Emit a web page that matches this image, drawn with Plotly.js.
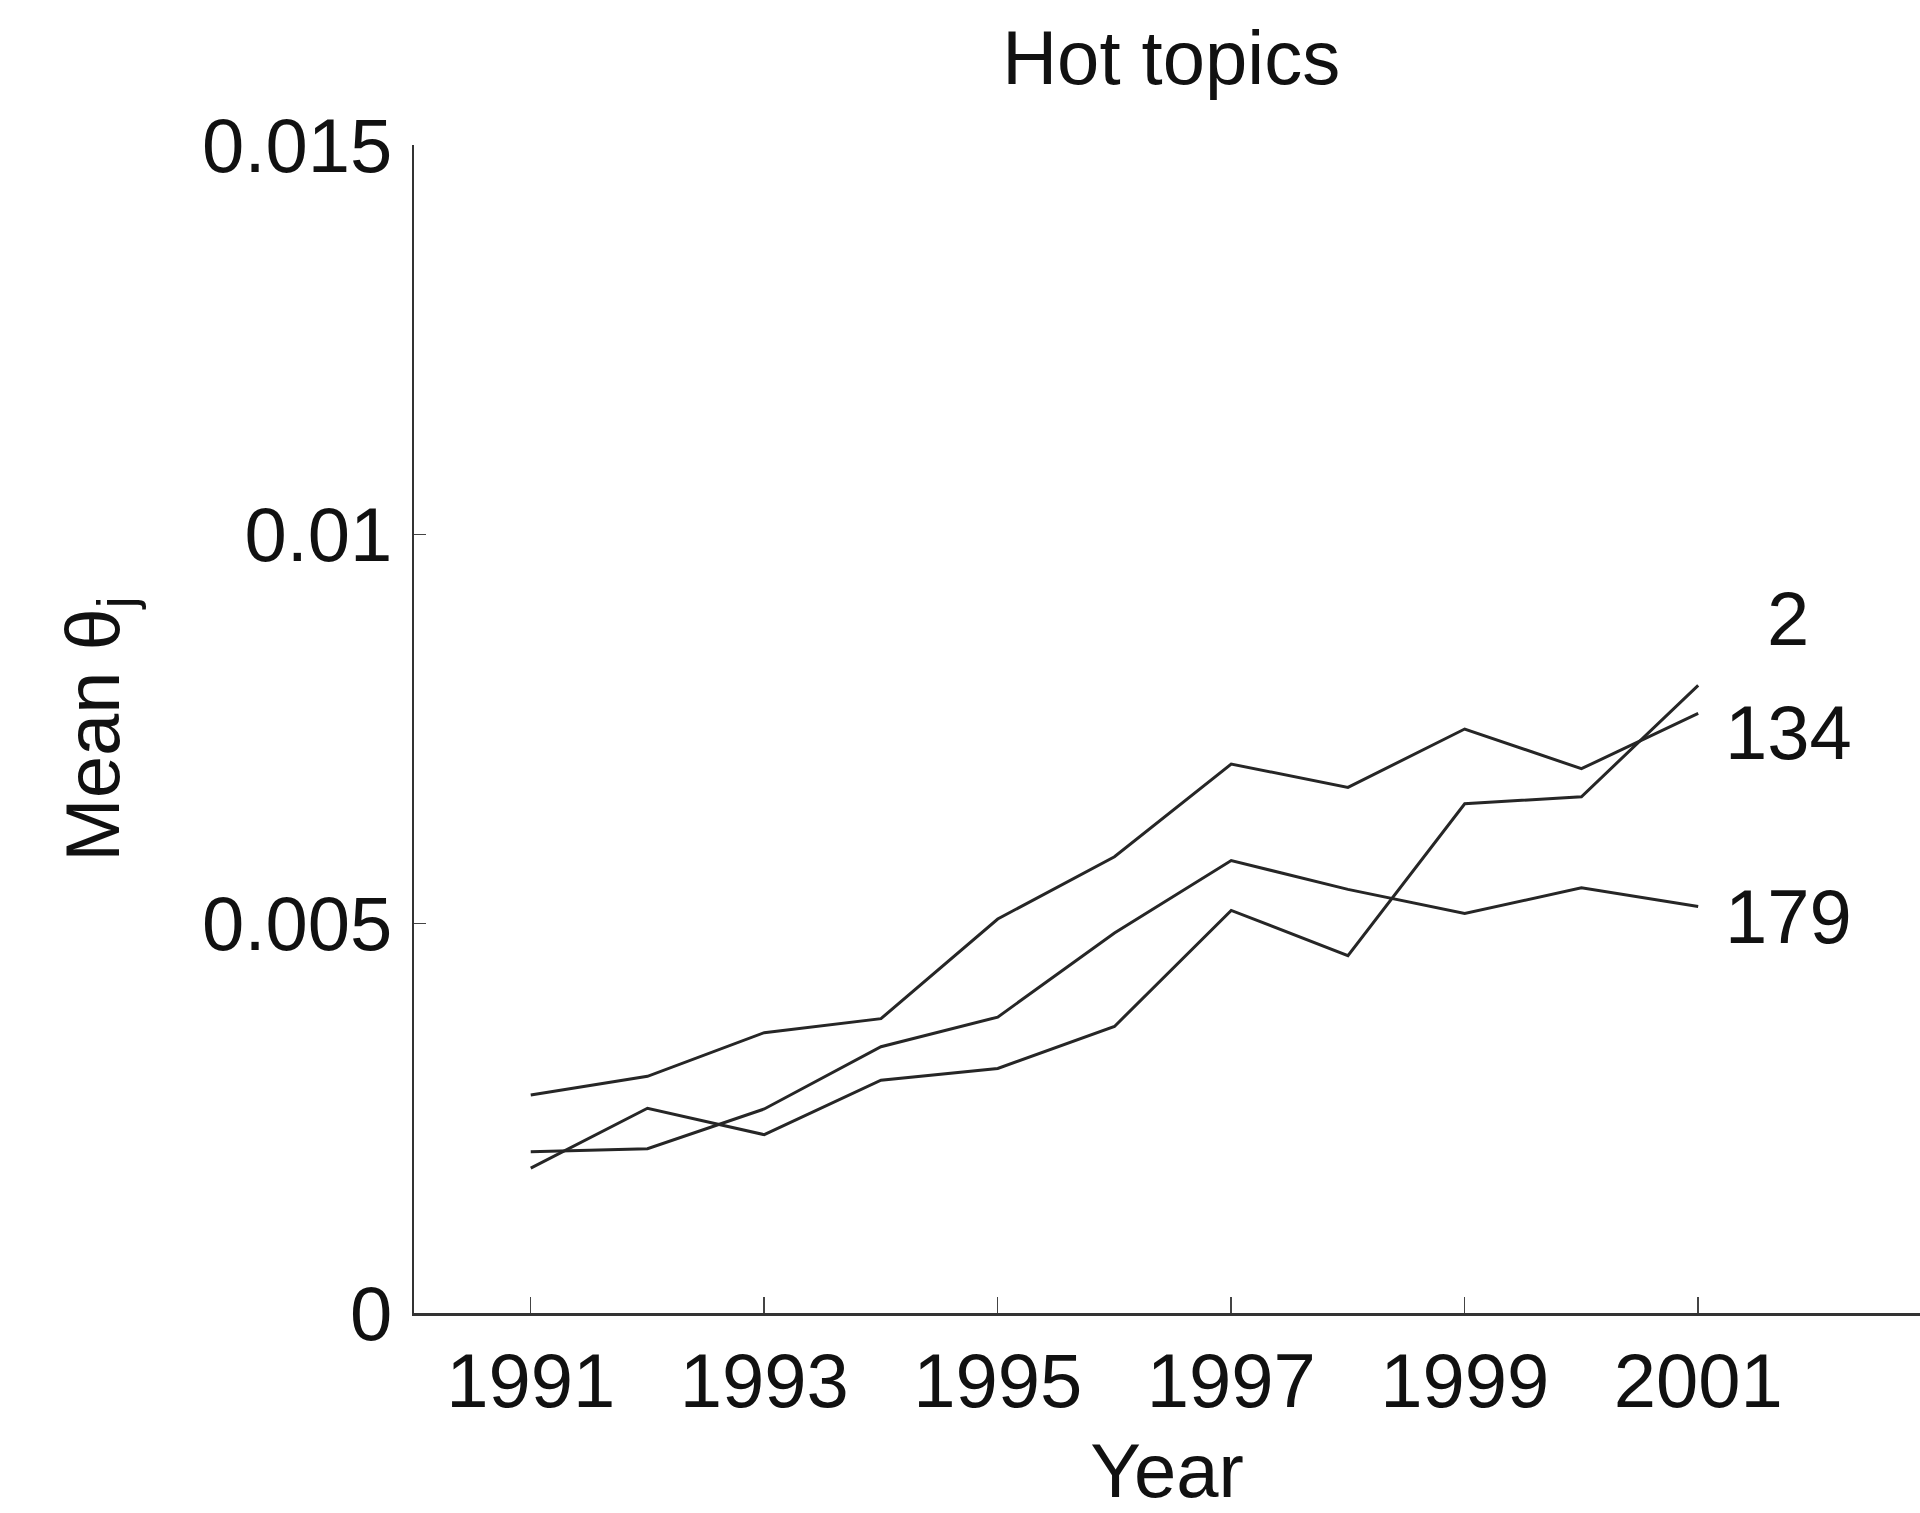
<!DOCTYPE html>
<html>
<head>
<meta charset="utf-8">
<script src="https://cdn.plot.ly/plotly-3.0.1.min.js"></script>
<style>html,body{margin:0;padding:0;background:#fff;}#chart{width:1920px;height:1513px;}</style>
</head>
<body>
<div id="chart"></div>
<script>
var years = [1991, 1992, 1993, 1994, 1995, 1996, 1997, 1998, 1999, 2000, 2001];
var topic2   = [0.00186, 0.00263, 0.00229, 0.00299, 0.00314, 0.00368, 0.00517, 0.00459, 0.00654, 0.00663, 0.00806];
var topic134 = [0.00280, 0.00304, 0.00360, 0.00378, 0.00506, 0.00586, 0.00705, 0.00675, 0.00750, 0.00699, 0.00770];
var topic179 = [0.00207, 0.00211, 0.00262, 0.00342, 0.00380, 0.00488, 0.00581, 0.00544, 0.00513, 0.00546, 0.00522];
var seriesNames = ["2", "134", "179"];
var labelY = [0.00892, 0.00746, 0.00509];
var xTicks = [1991, 1993, 1995, 1997, 1999, 2001];
var yTicks = [0, 0.005, 0.01, 0.015];
var yTickText = ["0", "0.005", "0.01", "0.015"];

var FONT = "Liberation Sans, Arial, Helvetica, sans-serif";
var lineStyle = {color: "#262626", width: 3};
var all = [topic2, topic134, topic179];
var traces = all.map(function (vals, i) {
  return {x: years, y: vals, type: "scatter", mode: "lines", name: seriesNames[i],
          line: lineStyle, hoverinfo: "x+y+name", showlegend: false};
});

var annotations = seriesNames.map(function (n, i) {
  return {x: 2001.77, y: labelY[i], xref: "x", yref: "y", text: n, showarrow: false,
          xanchor: "center", yanchor: "middle", font: {family: FONT, size: 76, color: "#111"}};
});

var layout = {
  width: 1920, height: 1513,
  paper_bgcolor: "#fff", plot_bgcolor: "#fff",
  margin: {l: 414, r: 0, t: 145, b: 200, pad: 0},
  font: {family: FONT, size: 76, color: "#111"},
  title: {text: "Hot topics", x: 0.61, xanchor: "center", y: 0.962, yanchor: "middle",
          font: {family: FONT, size: 76, color: "#111"}},
  xaxis: {range: [1990, 2002.9], tickvals: xTicks, ticktext: xTicks.map(String),
          ticks: "inside", ticklen: 16, tickwidth: 1.5, tickcolor: "#444",
          showline: true, linecolor: "#333", linewidth: 2.5, showgrid: false, zeroline: false,
          ticklabelstandoff: 0,
          title: {text: "Year", standoff: 30, font: {family: FONT, size: 76, color: "#111"}}},
  yaxis: {range: [0, 0.015], tickvals: yTicks, ticktext: yTickText,
          ticks: "inside", ticklen: 12, tickwidth: 1.5, tickcolor: "#444",
          showline: true, linecolor: "#333", linewidth: 2.5, showgrid: false, zeroline: false,
          ticklabelstandoff: 4,
          title: {text: "Mean θ<sub>j</sub>", standoff: 58, font: {family: FONT, size: 76, color: "#111"}}},
  annotations: annotations
};

Plotly.newPlot("chart", traces, layout, {staticPlot: true, displayModeBar: false});
</script>
</body>
</html>
